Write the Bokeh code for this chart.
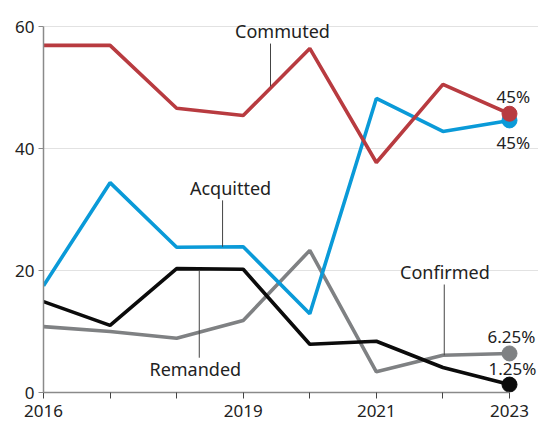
from bokeh.plotting import figure
from bokeh.models import Range1d, FixedTicker, Label
from bokeh.embed import file_html
from bokeh.resources import INLINE

years = [2016, 2017, 2018, 2019, 2020, 2021, 2022, 2023]
commuted = [56.9, 56.9, 46.6, 45.4, 56.4, 37.7, 50.5, 45.7]
acquitted = [17.5, 34.4, 23.8, 23.9, 12.9, 48.2, 42.8, 44.6]
remanded = [14.9, 11.0, 20.3, 20.2, 7.9, 8.4, 4.1, 1.3]
confirmed = [10.8, 10.0, 8.9, 11.8, 23.3, 3.4, 6.1, 6.4]
x_tick_labels = {2016: "2016", 2019: "2019", 2021: "2021", 2023: "2023"}
y_ticks = [0, 20, 40, 60]
series_names = ["Commuted", "Acquitted", "Remanded", "Confirmed"]
end_labels = ["45%", "45%", "6.25%", "1.25%"]

FONT = "Noto Sans"
FS = "17px"
FS_ANN = "18px"
RED, BLUE, BLACK, GRAY = "#b83b40", "#0a9ad8", "#0b0b0b", "#7f8183"
PX_PER_YEAR = (509 - 43) / 7
PX_PER_UNIT = (392 - 26) / 60

p = figure(width=538, height=421, output_backend="svg", toolbar_location=None,
           x_range=Range1d(2016, 2023 + 29 / PX_PER_YEAR),
           y_range=Range1d(0, 60 + 26 / PX_PER_UNIT),
           min_border_left=43, min_border_right=0, min_border_top=0,
           min_border_bottom=29)
p.outline_line_color = None
p.background_fill_color = "white"
p.border_fill_color = "white"

p.xgrid.visible = False
p.ygrid.grid_line_color = "#e2e2e2"
p.ygrid.grid_line_width = 1
p.ygrid.bounds = (2016, 2023)

xa = p.xaxis[0]
xa.ticker = FixedTicker(ticks=years)
xa.major_label_overrides = {y: x_tick_labels.get(y, "") for y in years}
xa.bounds = (2016, 2023)
xa.axis_line_color = "#8a8a8a"
xa.major_tick_line_color = "#444444"
xa.major_tick_out = 6
xa.major_tick_in = 0
xa.minor_tick_line_color = None
xa.major_label_standoff = 6
ya = p.yaxis[0]
ya.ticker = FixedTicker(ticks=y_ticks)
ya.bounds = (0, 60)
ya.axis_line_color = "#8a8a8a"
ya.major_tick_line_color = "#8a8a8a"
ya.major_tick_out = 5
ya.major_tick_in = 0
ya.minor_tick_line_color = None
ya.major_label_standoff = 4
for ax in (xa, ya):
    ax.major_label_text_font = FONT
    ax.major_label_text_font_size = FS
    ax.major_label_text_color = "#222222"
    ax.axis_line_width = 1.5

LW = 3.6
p.line(years, confirmed, line_color=GRAY, line_width=LW)
p.line(years, remanded, line_color=BLACK, line_width=LW)
p.line(years, acquitted, line_color=BLUE, line_width=LW)
p.line(years, commuted, line_color=RED, line_width=LW)

p.scatter([years[-1]], [confirmed[-1]], size=15, color=GRAY)
p.scatter([years[-1]], [remanded[-1]], size=15, color=BLACK)
p.scatter([years[-1]], [acquitted[-1]], size=15, color=BLUE)
p.scatter([years[-1]], [commuted[-1]], size=15, color=RED)

# leader lines
p.segment(x0=[2019.41, 2018.69, 2018.34, 2022.02],
          y0=[57.2, 31.5, 20.0, 17.7],
          x1=[2019.41, 2018.69, 2018.34, 2022.02],
          y1=[50.2, 23.9, 5.7, 6.1],
          line_color="#444444", line_width=1)

name_pos = [(2019.59, 59.3), (2018.81, 33.6), (2018.28, 3.9), (2022.03, 19.8)]
for name, (x, y) in zip(series_names, name_pos):
    p.add_layout(Label(x=x, y=y, text=name, text_font=FONT, text_font_size=FS_ANN,
                       text_color="#222222", text_align="center",
                       text_baseline="middle"))

end_pos = [(48.5, -13), (41.0, -13), (9.2, -22), (3.9, -21)]
for txt, (y, xo) in zip(end_labels, end_pos):
    p.add_layout(Label(x=years[-1], y=y, x_offset=xo, text=txt, text_font=FONT,
                       text_font_size=FS, text_color="#222222",
                       text_align="left", text_baseline="middle"))

open("out.html", "w").write(file_html(p, INLINE))
